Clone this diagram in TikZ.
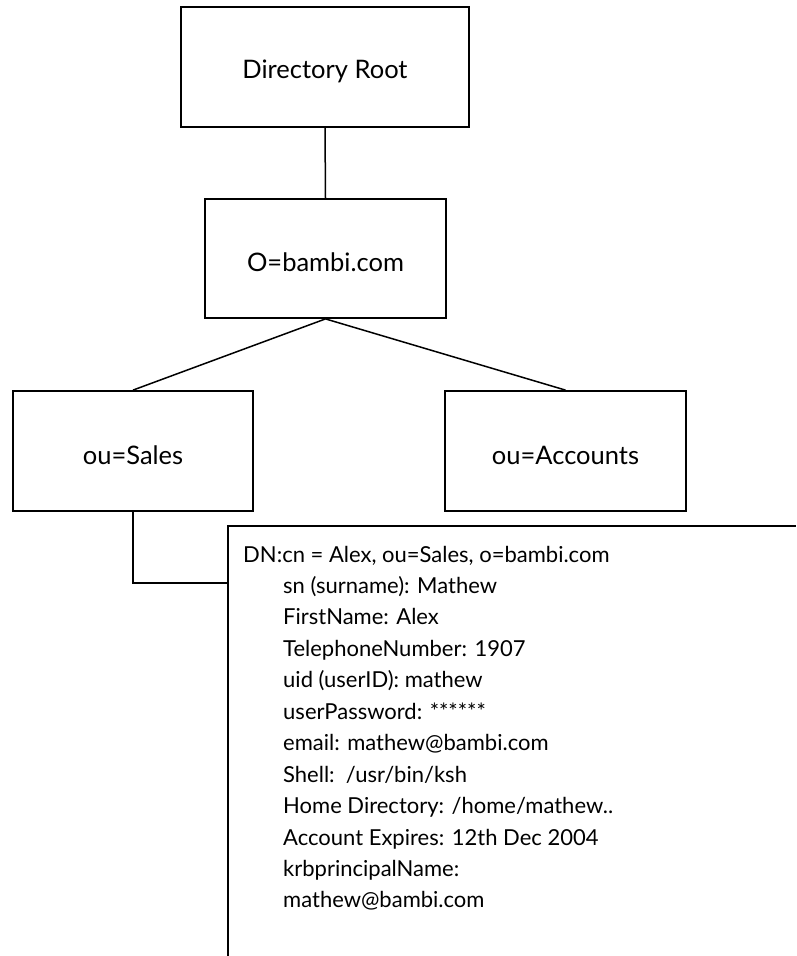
\documentclass[tikz,border=0pt]{standalone}
\usepackage{fontspec}
\setmainfont{Lato}
\begin{document}
\begin{tikzpicture}[x=1pt,y=-1pt,
  box/.style={draw,line width=1.8pt,inner sep=0pt},
  con/.style={line width=1.5pt},
  lbl/.style={font=\fontsize{25.5}{30}\selectfont},
  entry/.style={anchor=base west,inner sep=0pt,font=\fontsize{22}{26}\selectfont}]
\useasboundingbox (0,0) rectangle (796,956);
\node[box,minimum width=288pt,minimum height=120pt] (root) at (325,67) {};
\node[lbl] (rootT) at ([yshift=-4pt]root.center) {Directory Root};
\node[box,minimum width=241pt,minimum height=119pt] (org) at (325.5,258.5) {};
\node[lbl] (orgT) at ([yshift=-4pt]org.center) {O=bambi.com};
\node[box,minimum width=240pt,minimum height=120pt] (sales) at (133,451) {};
\node[lbl] (salesT) at ([yshift=-4pt]sales.center) {ou=Sales};
\node[box,minimum width=241pt,minimum height=120pt] (acc) at (565.5,451) {};
\node[lbl] (accT) at ([yshift=-4pt]acc.center) {ou=Accounts};
\draw[con] (root.south) -- (org.north);
\draw[con] (org.south) -- (sales.north);
\draw[con] (org.south) -- (acc.north);
% entry box (open on the right and bottom)
\coordinate (bl) at (228,956);
\coordinate (tl) at (228,526);
\coordinate (tr) at (796,526);
\draw[line width=1.8pt] (bl) -- (tl) -- (tr);
\coordinate (join) at (228,583);
\draw[con] (sales.south) |- (join);
\node[entry] (l0) at (243,562) {DN:cn = Alex, ou=Sales, o=bambi.com};
\node[entry] (l1) at (283,593.45) {sn (surname): Mathew};
\node[entry] (l2) at (283,624.9) {FirstName: Alex};
\node[entry] (l3) at (283,656.35) {TelephoneNumber: 1907};
\node[entry] (l4) at (283,687.8) {uid (userID): mathew};
\node[entry] (l5) at (283,719.25) {userPassword: ******};
\node[entry] (l6) at (283,750.7) {email: mathew@bambi.com};
\node[entry] (l7) at (283,782.15) {Shell:\ \ /usr/bin/ksh};
\node[entry] (l8) at (283,813.6) {Home Directory: /home/mathew..};
\node[entry] (l9) at (283,845.05) {Account Expires: 12th Dec 2004};
\node[entry] (l10) at (283,876.5) {krbprincipalName:};
\node[entry] (l11) at (283,907.95) {mathew@bambi.com};
\end{tikzpicture}
\end{document}
